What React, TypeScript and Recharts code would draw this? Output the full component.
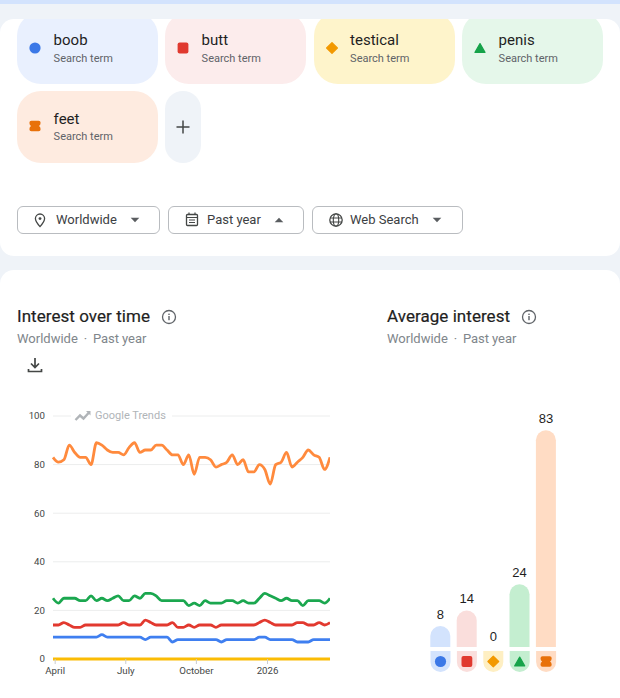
import React from "react";
import { LineChart, Line, XAxis, YAxis, CartesianGrid, BarChart, Bar, Cell, LabelList } from "recharts";

const terms = ["boob", "butt", "testical", "penis", "feet"];
const glyphs = ["circle", "square", "diamond", "triangle", "spool"];
const strongColors = ["#3b78e7", "#e0392f", "#f29900", "#16a34a", "#e8710a"];
const lineColors = ["#3f7ff0", "#e2392f", "#fbbc04", "#1ba74f", "#ff8a3d"];
const paleColors = ["#d3e3fd", "#fadedc", "#feefc3", "#c4eed0", "#ffdcc4"];
const chipColors = ["#e9f0fe", "#fcecec", "#fef4cb", "#e5f7ea", "#feebe0"];
const averages = [8, 14, 0, 24, 83];

const boob = [9,9,9,9,9,9,9,9,9,10,9,9,9,9,9,9,9,8,9,9,9,9,7,8,8,8,8,8,8,8,8,7,8,8,8,8,8,8,9,9,8,8,8,8,8,7,7,7,8,8,8,8];
const butt = [14,14,15,14,13,13,14,14,14,14,14,14,14,15,14,14,14,16,15,14,14,14,15,13,13,14,13,14,14,14,13,14,14,14,14,14,14,14,15,16,15,14,14,14,14,15,15,14,14,15,14,15];
const testical = [0,0,0,0,0,0,0,0,0,0,0,0,0,0,0,0,0,0,0,0,0,0,0,0,0,0,0,0,0,0,0,0,0,0,0,0,0,0,0,0,0,0,0,0,0,0,0,0,0,0,0,0];
const penis = [25,23,25,25,25,24,24,26,24,25,24,25,26,24,24,26,25,27,27,26,24,24,24,24,24,22,23,22,24,23,23,23,24,24,23,24,23,23,25,27,26,25,24,25,24,24,22,24,24,24,23,25];
const feet = [83,81,82,88,85,83,83,80,89,88,86,85,85,84,87,89,85,86,86,88,88,86,84,84,80,84,76,83,83,82,79,80,81,84,80,82,77,77,80,78,72,80,81,85,79,81,83,86,84,83,78,83];

const yTicks = [0, 20, 40, 60, 80, 100];
const xTickWeeks = [0.4, 13.4, 26.4, 39.5];
const xTickLabels = ["April", "July", "October", "2026"];

const lineData = feet.map((_, i) => ({ week: i, boob: boob[i], butt: butt[i], testical: testical[i], penis: penis[i], feet: feet[i] }));
const barData = terms.map((t, i) => ({ term: t, value: averages[i] }));

const FONT = "Roboto, sans-serif";
const VALUE_FONT = "'Liberation Sans', Arial, sans-serif";

function Glyph({ kind, cx, cy, color, s = 1 }: any) {
  const t = `translate(${cx} ${cy}) scale(${s})`;
  if (kind === "circle") return <circle cx={cx} cy={cy} r={5.6 * s} fill={color} />;
  if (kind === "square") return <rect x={cx - 5.4 * s} y={cy - 5.4 * s} width={10.8 * s} height={10.8 * s} rx={2} fill={color} />;
  if (kind === "diamond") return <path transform={t} d="M0 -5.4 L5.4 0 L0 5.4 L-5.4 0 Z" fill={color} stroke={color} strokeWidth={1.2} strokeLinejoin="round" />;
  if (kind === "triangle") return <path transform={t} d="M0 -4.4 L5 4.4 L-5 4.4 Z" fill={color} stroke={color} strokeWidth={1.2} strokeLinejoin="round" />;
  return <path transform={t} d="M-3.6 -5.2 H3.6 Q5.6 -5.2 5.6 -3.2 Q5.6 -1 4 0 Q5.6 1 5.6 3.2 Q5.6 5.2 3.6 5.2 H-3.6 Q-5.6 5.2 -5.6 3.2 Q-5.6 1 -4 0 Q-5.6 -1 -5.6 -3.2 Q-5.6 -5.2 -3.6 -5.2 Z" fill={color} />;
}

function Chip({ i, left, top }: any) {
  const feetRow = i === 4;
  return (
    <div style={{ position: "absolute", left, top, width: 141, height: 72, borderRadius: 24, background: chipColors[i] }}>
      <svg width={36} height={72} style={{ position: "absolute", left: 0, top: 0 }}>
        <Glyph kind={glyphs[i]} cx={18} cy={feetRow ? 35 : 36} color={strongColors[i]} />
      </svg>
      <div style={{ position: "absolute", left: 36.6, top: 19, fontSize: 15, color: "#1f1f1f", lineHeight: "18px" }}>{terms[i]}</div>
      <div style={{ position: "absolute", left: 36.6, top: feetRow ? 39 : 39.5, fontSize: 11, color: "#5f6368", lineHeight: "14px" }}>Search term</div>
    </div>
  );
}

function Caret({ up, x, y }: any) {
  return <path d={up ? `M${x - 4.3} ${y + 2.2} L${x} ${y - 2.2} L${x + 4.3} ${y + 2.2} Z` : `M${x - 4.3} ${y - 2.2} L${x} ${y + 2.2} L${x + 4.3} ${y - 2.2} Z`} fill="#5a5d60" />;
}

function FilterButton({ left, width, label, textLeft, caretX, up, children }: any) {
  return (
    <div style={{ position: "absolute", left, top: 206, width, height: 28, boxSizing: "border-box", border: "1px solid #b9bcc0", borderRadius: 6 }}>
      <svg width={width} height={26} style={{ position: "absolute", left: 0, top: 0 }}>
        {children}
        <Caret up={up} x={caretX} y={13} />
      </svg>
      <div style={{ position: "absolute", left: textLeft, top: 5, fontSize: 13, lineHeight: "16px", color: "#3c4043", whiteSpace: "nowrap" }}>{label}</div>
    </div>
  );
}

function InfoIcon({ left, top }: any) {
  return (
    <svg width={16} height={16} style={{ position: "absolute", left, top }}>
      <circle cx={8} cy={8} r={6.5} fill="none" stroke="#5f6368" strokeWidth={1.3} />
      <rect x={7.3} y={7} width={1.4} height={4.2} fill="#5f6368" />
      <rect x={7.3} y={4.6} width={1.4} height={1.4} fill="#5f6368" />
    </svg>
  );
}

function CapTick({ x, y, payload, index }: any) {
  const i = payload?.index ?? index;
  const w = 10;
  return (
    <g>
      <path d={`M${x - w} ${y} H${x + w} V${y + 11} A${w} ${w} 0 0 1 ${x - w} ${y + 11} Z`} fill={paleColors[i]} />
      <Glyph kind={glyphs[i]} cx={x} cy={y + 10.5} color={strongColors[i]} />
      {averages[i] === 0 ? (
        <text x={x} y={y - 10.5} textAnchor="middle" fontSize={13} fontFamily={VALUE_FONT} fill="#1f1f1f">{averages[i]}</text>
      ) : null}
    </g>
  );
}

function Section({ title, left, iconLeft }: any) {
  return (
    <>
      <div style={{ position: "absolute", left, top: 306, fontSize: 17, lineHeight: "20px", color: "#1f1f1f", fontWeight: 400, letterSpacing: 0.05, whiteSpace: "nowrap", WebkitTextStroke: "0.2px #1f1f1f" }}>{title}</div>
      <InfoIcon left={iconLeft} top={309} />
      <div style={{ position: "absolute", left, top: 331, fontSize: 13, lineHeight: "16px", color: "#80868b", whiteSpace: "nowrap", wordSpacing: -0.3 }}>Worldwide&nbsp; ·&nbsp; Past year</div>
    </>
  );
}

export default function App() {
  return (
    <div style={{ position: "fixed", left: 0, top: 0, width: 620, height: 698, overflow: "hidden", background: "#eff3f8", fontFamily: FONT }}>
      <div style={{ position: "absolute", left: 0, top: 0, width: 620, height: 4, background: "#d3e3fd" }} />

      <div style={{ position: "absolute", left: 0, top: 19, width: 620, height: 237, background: "#fff", borderRadius: 14 }} />
      <div style={{ position: "absolute", left: 0, top: 19, width: 620, height: 150, overflow: "hidden" }}>
        <div style={{ position: "absolute", left: 0, top: -19, width: 620, height: 200 }}>
          <Chip i={0} left={17} top={12} />
          <Chip i={1} left={165} top={12} />
          <Chip i={2} left={313.5} top={12} />
          <Chip i={3} left={462} top={12} />
          <Chip i={4} left={17} top={91} />
          <div style={{ position: "absolute", left: 165, top: 91, width: 36, height: 72, borderRadius: 18, background: "#eff3f8" }}>
            <svg width={36} height={72}>
              <path d="M18 29.5 V42.5 M11.5 36 H24.5" stroke="#444746" strokeWidth={1.5} />
            </svg>
          </div>
        </div>
      </div>

      <FilterButton left={17} width={143} label="Worldwide" textLeft={38} caretX={117}>
        <path d="M22 7 a4.6 4.6 0 0 1 4.6 4.6 c0 3.2 -4.6 8 -4.6 8 s-4.6 -4.8 -4.6 -8 A4.6 4.6 0 0 1 22 7 Z" fill="none" stroke="#444746" strokeWidth={1.3} />
        <circle cx={22} cy={11.6} r={1.4} fill="#444746" />
      </FilterButton>
      <FilterButton left={168} width={136} label="Past year" textLeft={38} caretX={110} up>
        <rect x={17.5} y={7.5} width={11} height={11} rx={1} fill="none" stroke="#444746" strokeWidth={1.3} />
        <path d="M17.5 10.5 H28.5 M20 5.5 V8 M26 5.5 V8 M20 13 H26 M20 15.5 H26" stroke="#444746" strokeWidth={1.2} />
      </FilterButton>
      <FilterButton left={312} width={151} label="Web Search" textLeft={37} caretX={124}>
        <circle cx={23} cy={13} r={6.2} fill="none" stroke="#444746" strokeWidth={1.3} />
        <ellipse cx={23} cy={13} rx={2.7} ry={6.2} fill="none" stroke="#444746" strokeWidth={1.1} />
        <path d="M17 11 H29 M17 15 H29" stroke="#444746" strokeWidth={1.1} />
      </FilterButton>

      <div style={{ position: "absolute", left: 0, top: 270, width: 620, height: 450, background: "#fff", borderRadius: 14 }} />

      <Section title="Interest over time" left={17} iconLeft={161} />
      <Section title="Average interest" left={387} iconLeft={521} />

      <svg width={20} height={20} style={{ position: "absolute", left: 25, top: 355 }}>
        <path d="M10 3 V12 M6 8.5 L10 12.5 L14 8.5" fill="none" stroke="#444746" strokeWidth={1.7} />
        <path d="M3.5 14 V16.5 H16.5 V14" fill="none" stroke="#444746" strokeWidth={1.7} />
      </svg>

      <div style={{ position: "absolute", left: 0, top: 400 }}>
        <LineChart width={330} height={290} data={lineData} margin={{ top: 16, right: 0, bottom: 0, left: 0 }}>
          <CartesianGrid horizontal vertical={false} stroke="#eceded" strokeWidth={1} />
          <XAxis
            dataKey="week"
            type="number"
            domain={[0, 51]}
            ticks={xTickWeeks}
            tickFormatter={(v: number) => xTickLabels[xTickWeeks.indexOf(v)]}
            interval={0}
            height={31}
            axisLine={false}
            tickLine={{ stroke: "#c9cbce" }}
            tickSize={5}
            tick={{ fontSize: 9.7, fill: "#444746", fontFamily: FONT }}
            tickMargin={3}
          />
          <YAxis
            domain={[0, 100]}
            ticks={yTicks}
            width={53}
            axisLine={false}
            tickLine={false}
            tickSize={0}
            tickMargin={8}
            tick={{ fontSize: 9.7, fill: "#444746", fontFamily: FONT }}
          />
          <Line dataKey="boob" stroke={lineColors[0]} strokeWidth={2.8} dot={false} isAnimationActive={false} type="monotone" />
          <Line dataKey="butt" stroke={lineColors[1]} strokeWidth={2.8} dot={false} isAnimationActive={false} type="monotone" />
          <Line dataKey="testical" stroke={lineColors[2]} strokeWidth={2.8} dot={false} isAnimationActive={false} type="monotone" />
          <Line dataKey="penis" stroke={lineColors[3]} strokeWidth={2.8} dot={false} isAnimationActive={false} type="monotone" />
          <Line dataKey="feet" stroke={lineColors[4]} strokeWidth={2.8} dot={false} isAnimationActive={false} type="monotone" />
        </LineChart>
      </div>

      <div style={{ position: "absolute", left: 71, top: 408, width: 101, height: 16, background: "#fff" }}>
        <svg width={18} height={14} style={{ position: "absolute", left: 3, top: 1 }}>
          <path d="M1.5 11 L6 6.5 L9.5 9.5 L15 3.5" fill="none" stroke="#b0b4b8" strokeWidth={2.4} />
          <path d="M12 2 H16.5 V6.5 Z" fill="#b0b4b8" />
        </svg>
        <div style={{ position: "absolute", left: 24, top: 0, fontSize: 11, lineHeight: "15px", color: "#b0b4b8", whiteSpace: "nowrap" }}>Google Trends</div>
      </div>

      <div style={{ position: "absolute", left: 400, top: 370 }}>
        <BarChart width={190} height={320} data={barData} margin={{ top: 16, right: 30.7, bottom: 0, left: 27.3 }} barSize={20}>
          <YAxis hide domain={[0, 100]} />
          <XAxis dataKey="term" interval={0} height={43} axisLine={false} tickLine={false} tickSize={4} tickMargin={0} tick={<CapTick />} />
          <Bar dataKey="value" isAnimationActive={false} radius={[10, 10, 0, 0]}>
            {barData.map((d, i) => <Cell key={d.term} fill={paleColors[i]} />)}
            <LabelList dataKey="value" position="top" offset={7} style={{ fontSize: 13, fill: "#1f1f1f", fontFamily: VALUE_FONT }} />
          </Bar>
        </BarChart>
      </div>
    </div>
  );
}
